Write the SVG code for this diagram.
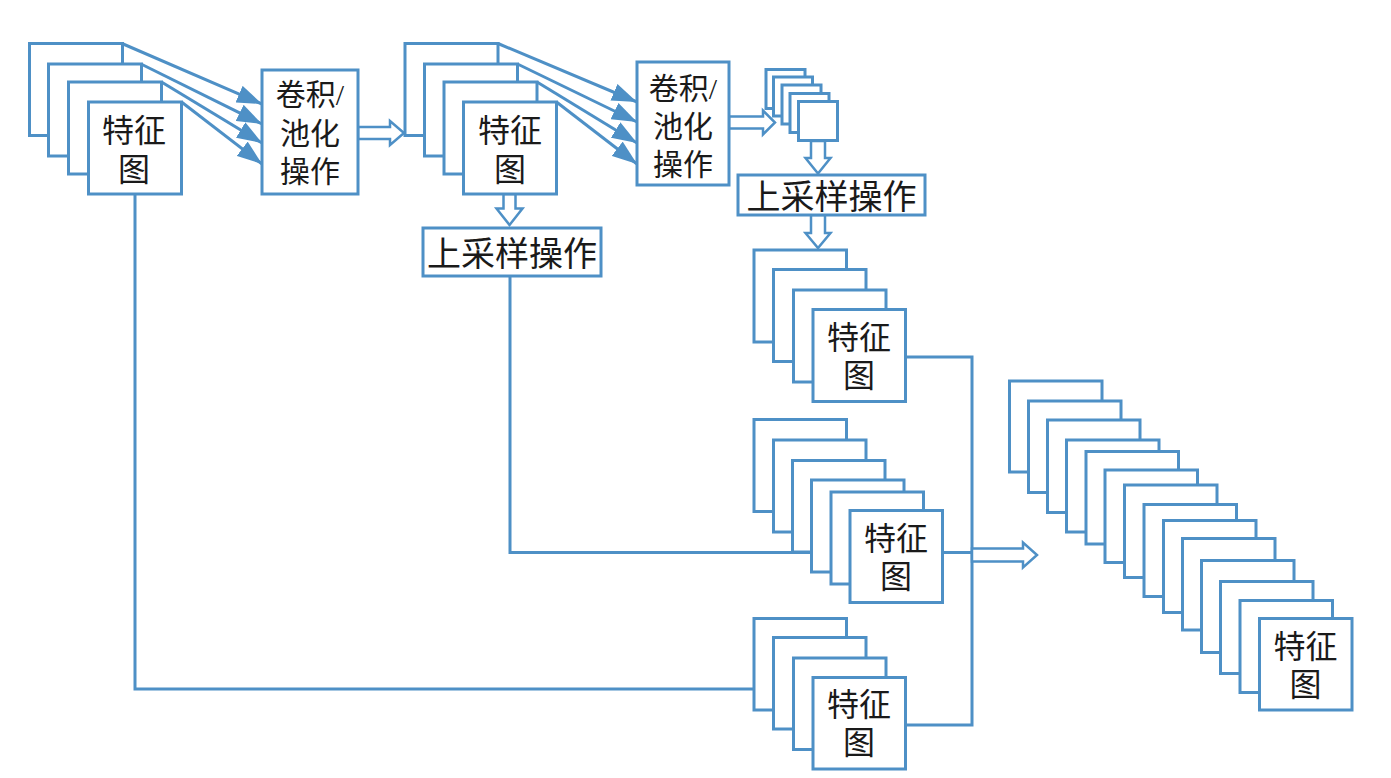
<svg xmlns="http://www.w3.org/2000/svg" width="1391" height="778" viewBox="0 0 1391 778">
<style>
.n{fill:#fff;stroke:#4e90c6;stroke-width:3}
.c{fill:none;stroke:#4e90c6;stroke-width:3}
.h{fill:#fff;stroke:#4e90c6;stroke-width:2.5}
.t{font-family:"Liberation Serif","Noto Sans CJK SC","Noto Sans CJK JP",serif;font-size:32px;fill:#1a1a1a;text-anchor:middle;dominant-baseline:central}
.s{font-size:30px}
.u{font-size:34px}
</style>
<defs>
<marker id="ah" markerUnits="userSpaceOnUse" markerWidth="26" markerHeight="18" refX="25" refY="9" orient="auto">
<path d="M0,0 L25,9 L0,18 z" fill="#4e90c6"/>
</marker>
</defs>
<rect width="1391" height="778" fill="#fff"/>
<g id="connectors">
<line class="c" x1="122" y1="43.5" x2="262" y2="104" marker-end="url(#ah)"/>
<line class="c" x1="141" y1="64" x2="262" y2="124" marker-end="url(#ah)"/>
<line class="c" x1="161.5" y1="82" x2="262" y2="143" marker-end="url(#ah)"/>
<line class="c" x1="181.5" y1="102" x2="262" y2="164" marker-end="url(#ah)"/>
<line class="c" x1="498" y1="43.5" x2="637" y2="102" marker-end="url(#ah)"/>
<line class="c" x1="517.5" y1="64" x2="637" y2="122" marker-end="url(#ah)"/>
<line class="c" x1="537" y1="82" x2="637" y2="143" marker-end="url(#ah)"/>
<line class="c" x1="556.5" y1="102" x2="637" y2="164" marker-end="url(#ah)"/>
<polygon class="h" points="358,127 390,127 390,121 404,133 390,145 390,139 358,139"/>
<polygon class="h" points="729,116.5 763,116.5 763,110.5 775,122.5 763,134.5 763,128.5 729,128.5"/>
<polygon class="h" points="811,141 811,158 805.5,158 818,173.5 830.5,158 825,158 825,141"/>
<polygon class="h" points="811,215 811,233 805.5,233 818,248 830.5,233 825,233 825,215"/>
<polygon class="h" points="503.5,194 503.5,208.5 496.5,208.5 509.5,225 522.5,208.5 515.5,208.5 515.5,194"/>
<polyline class="c" points="510,276 510,552.5 812,552.5"/>
<polyline class="c" points="135,194 135,689 754,689"/>
<polyline class="c" points="905,357 972,357 972,725 905,725"/>
<line class="c" x1="942" y1="552.5" x2="972" y2="552.5"/>
<polygon class="h" points="972,548.5 1023,548.5 1023,542.5 1037,555 1023,567.5 1023,561.5 972,561.5"/>
</g>
<g id="stack1">
<rect class="n" x="29.5" y="43.5" width="93" height="92"/>
<rect class="n" x="48.5" y="64" width="93" height="92"/>
<rect class="n" x="68.5" y="82" width="93" height="92"/>
<rect class="n" x="88.5" y="102" width="93" height="92"/>
<text class="t"><tspan x="134" y="131">特征</tspan><tspan x="134" y="170">图</tspan></text>
</g>
<g id="conv1">
<rect class="n" x="262" y="70" width="96" height="124"/>
<text class="t s"><tspan x="310" y="94">卷积/</tspan><tspan x="310" y="132.5">池化</tspan><tspan x="310" y="171">操作</tspan></text>
</g>
<g id="stack2">
<rect class="n" x="405" y="43.5" width="93" height="92"/>
<rect class="n" x="424.5" y="64" width="93" height="92"/>
<rect class="n" x="444" y="82" width="93" height="92"/>
<rect class="n" x="463.5" y="102" width="93" height="92"/>
<text class="t"><tspan x="510" y="131">特征</tspan><tspan x="510" y="170">图</tspan></text>
</g>
<g id="conv2">
<rect class="n" x="637" y="62" width="92" height="123"/>
<text class="t s"><tspan x="683" y="88">卷积/</tspan><tspan x="683" y="126">池化</tspan><tspan x="683" y="164">操作</tspan></text>
</g>
<g id="smallstack">
<rect class="n" x="766" y="69.5" width="39" height="39"/>
<rect class="n" x="773.5" y="77" width="39" height="39"/>
<rect class="n" x="782" y="85" width="39" height="39"/>
<rect class="n" x="790" y="93.5" width="39" height="39"/>
<rect class="n" x="798.5" y="101.5" width="39" height="39"/>
</g>
<g id="upsample1">
<rect class="n" x="423" y="228" width="178" height="48"/>
<text class="t u" x="512" y="254.5">上采样操作</text>
</g>
<g id="upsample2">
<rect class="n" x="738" y="175" width="187" height="40"/>
<text class="t u" x="831.5" y="197">上采样操作</text>
</g>
<g id="stack3">
<rect class="n" x="754" y="250" width="92.5" height="92"/>
<rect class="n" x="773.5" y="269.5" width="92.5" height="92"/>
<rect class="n" x="793.5" y="290" width="92.5" height="92"/>
<rect class="n" x="813" y="309.5" width="92.5" height="92"/>
<text class="t"><tspan x="859" y="338">特征</tspan><tspan x="859" y="376">图</tspan></text>
</g>
<g id="stack4">
<rect class="n" x="754" y="419.5" width="92.5" height="92"/>
<rect class="n" x="773.5" y="440" width="92.5" height="92"/>
<rect class="n" x="792.5" y="460.5" width="92.5" height="91.5"/>
<rect class="n" x="811.5" y="480" width="92.5" height="92"/>
<rect class="n" x="831" y="492" width="92.5" height="92"/>
<rect class="n" x="850" y="510.5" width="92.5" height="92"/>
<text class="t"><tspan x="896" y="539">特征</tspan><tspan x="896" y="577">图</tspan></text>
</g>
<g id="stack5">
<rect class="n" x="754" y="618.5" width="92.5" height="91.5"/>
<rect class="n" x="773.5" y="637.5" width="92.5" height="91.5"/>
<rect class="n" x="793.5" y="658" width="92.5" height="91.5"/>
<rect class="n" x="813" y="677.5" width="92.5" height="91.5"/>
<text class="t"><tspan x="859" y="705">特征</tspan><tspan x="859" y="743">图</tspan></text>
</g>
<g id="stack6">
<rect class="n" x="1009.5" y="381" width="92.5" height="91"/>
<rect class="n" x="1028.5" y="401" width="92.5" height="91.5"/>
<rect class="n" x="1047.5" y="420" width="92.5" height="92.5"/>
<rect class="n" x="1066.5" y="440" width="92.5" height="92"/>
<rect class="n" x="1086" y="451.5" width="92.5" height="92.5"/>
<rect class="n" x="1105" y="470" width="92.5" height="92.5"/>
<rect class="n" x="1124.5" y="485" width="92.5" height="92.5"/>
<rect class="n" x="1144" y="504.5" width="92.5" height="92"/>
<rect class="n" x="1163.5" y="520.5" width="92.5" height="92"/>
<rect class="n" x="1182.5" y="538.5" width="92.5" height="91.5"/>
<rect class="n" x="1201.5" y="560.5" width="92.5" height="92"/>
<rect class="n" x="1220.5" y="581.5" width="92.5" height="92"/>
<rect class="n" x="1240" y="600.5" width="92.5" height="92"/>
<rect class="n" x="1259.5" y="618.5" width="92.5" height="91.5"/>
<text class="t"><tspan x="1305.5" y="647">特征</tspan><tspan x="1305.5" y="685">图</tspan></text>
</g>
</svg>
